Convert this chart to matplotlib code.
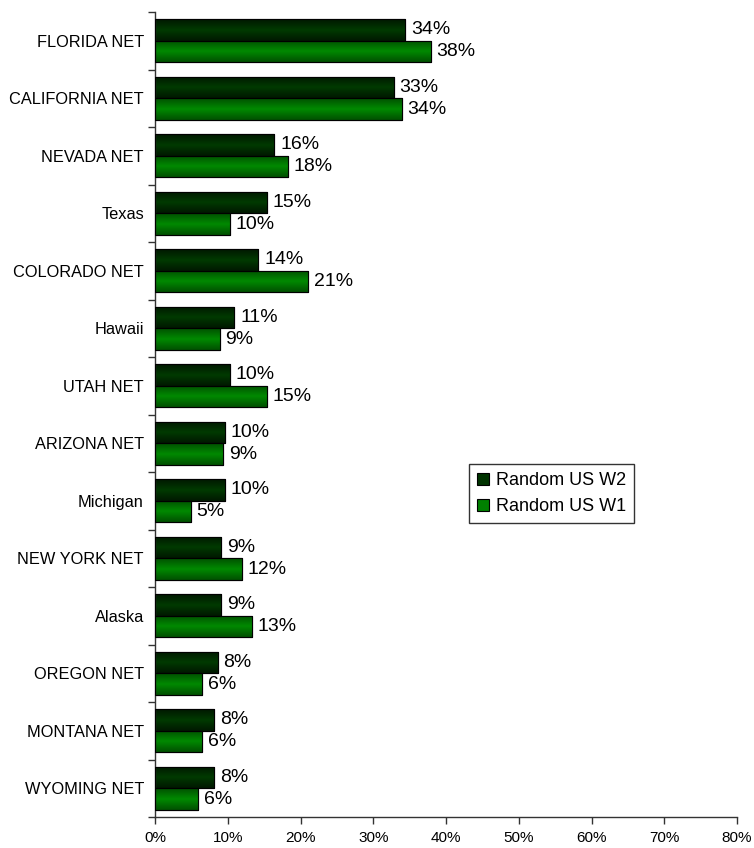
import matplotlib
matplotlib.use("Agg")
import matplotlib.pyplot as plt
import numpy as np
from matplotlib.colors import LinearSegmentedColormap

categories = ["FLORIDA NET", "CALIFORNIA NET", "NEVADA NET", "Texas", "COLORADO NET",
              "Hawaii", "UTAH NET", "ARIZONA NET", "Michigan", "NEW YORK NET",
              "Alaska", "OREGON NET", "MONTANA NET", "WYOMING NET"]
w2_values = [34.4, 32.8, 16.4, 15.4, 14.2, 10.9, 10.3, 9.6, 9.6, 9.1, 9.1, 8.6, 8.1, 8.1]
w1_values = [37.9, 33.9, 18.3, 10.3, 21.0, 8.9, 15.4, 9.4, 4.9, 11.9, 13.3, 6.5, 6.5, 5.9]
w2_labels = ["34%", "33%", "16%", "15%", "14%", "11%", "10%", "10%", "10%", "9%", "9%", "8%", "8%", "8%"]
w1_labels = ["38%", "34%", "18%", "10%", "21%", "9%", "15%", "9%", "5%", "12%", "13%", "6%", "6%", "6%"]
series_names = ["Random US W2", "Random US W1"]
x_ticks = [0, 10, 20, 30, 40, 50, 60, 70, 80]

plt.rcParams['font.family'] = ['Liberation Sans', 'DejaVu Sans']

fig = plt.figure(figsize=(7.54, 8.48), dpi=100)
ax = fig.add_axes([155/754, 1-817/848, (737-155)/754, (817-12)/848])

n = len(categories)
y = np.arange(n)
h = 0.375

w2_col = "#003300"
w1_col = "#008000"
cmap_w2 = LinearSegmentedColormap.from_list("w2", ["#001800", "#003a00", "#001800"])
cmap_w1 = LinearSegmentedColormap.from_list("w1", ["#005000", "#008a00", "#005000"])
grad = np.linspace(0, 1, 64).reshape(-1, 1)

bars2 = ax.barh(y - h/2, w2_values, height=h, color=w2_col, edgecolor="black", linewidth=0.8, label=series_names[0], zorder=2)
bars1 = ax.barh(y + h/2, w1_values, height=h, color=w1_col, edgecolor="black", linewidth=0.8, label=series_names[1], zorder=2)

for bars, cm in ((bars2, cmap_w2), (bars1, cmap_w1)):
    for b in bars:
        x0, y0 = b.get_x(), b.get_y()
        wd, ht = b.get_width(), b.get_height()
        im = ax.imshow(grad, cmap=cm, aspect="auto", extent=(x0, x0 + wd, y0 + ht, y0),
                       zorder=2.5, interpolation="bilinear")
        im.set_clip_path(b)
        b2 = plt.Rectangle((x0, y0), wd, ht, fill=False, edgecolor="black", linewidth=0.8, zorder=3)
        ax.add_patch(b2)

for b, lab in zip(bars2, w2_labels):
    ax.text(b.get_width() + 0.8, b.get_y() + b.get_height()/2, lab, va="center", ha="left", fontsize=14, zorder=4)
for b, lab in zip(bars1, w1_labels):
    ax.text(b.get_width() + 0.8, b.get_y() + b.get_height()/2, lab, va="center", ha="left", fontsize=14, zorder=4)

ax.set_xlim(0, 80)
ax.set_ylim(n - 0.5, -0.5)
ax.set_xticks(x_ticks)
ax.set_xticklabels([f"{t}%" for t in x_ticks], fontsize=11)
ax.set_yticks(y)
ax.set_yticklabels(categories, fontsize=11.8)
ax.set_yticks(np.arange(n + 1) - 0.5, minor=True)
ax.tick_params(axis="y", which="major", length=0, pad=8)
ax.tick_params(axis="y", which="minor", length=5, width=1, color="#333333", direction="out")
ax.tick_params(axis="x", which="major", length=5, width=1, color="#333333", direction="out", pad=5)

for s in ("top", "right"):
    ax.spines[s].set_visible(False)
for s in ("left", "bottom"):
    ax.spines[s].set_color("#333333")
    ax.spines[s].set_linewidth(1)

leg = ax.legend(loc="upper left", bbox_to_anchor=((469-155)/582, 1-(464-12)/805), fontsize=13,
                frameon=True, fancybox=False, edgecolor="black", handlelength=0.65, handleheight=0.65,
                handletextpad=0.4, borderpad=0.45, labelspacing=0.5, borderaxespad=0)
leg.get_frame().set_linewidth(1)

fig.savefig("out.png", dpi=100)
